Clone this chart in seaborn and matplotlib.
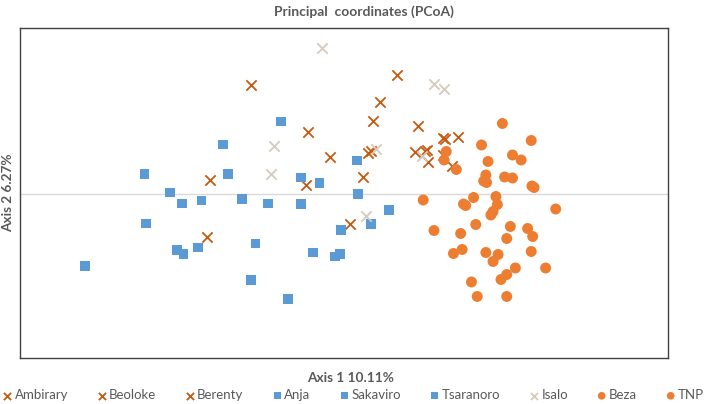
import numpy as np
import pandas as pd
import seaborn as sns
import matplotlib.pyplot as plt

# PCoA scores (axis 1, axis 2)
ambirary_x = [-0.129, 0.050, 0.073, 0.040, -0.050, -0.019, 0.034, 0.0375]
ambirary_y = [0.217, 0.183, 0.237, 0.146, 0.124, 0.073, 0.081, 0.086]
beoloke_x = [0.027, -0.186, -0.053, 0.008, -0.190, 0.103, 0.137]
beoloke_y = [0.033, 0.027, 0.017, -0.060, -0.087, 0.136, 0.111]
berenty_x = [0.140, 0.159, 0.099, 0.112, 0.115, 0.116, 0.138, 0.150]
berenty_y = [0.110, 0.113, 0.083, 0.086, 0.088, 0.063, 0.077, 0.055]

anja_x = [-0.0875, -0.168, -0.277, -0.161, -0.060, -0.034, -0.242, 0.018, 0.020, -0.225]
anja_y = [0.145, 0.099, 0.040, 0.040, 0.033, 0.022, 0.003, 0.067, 0.000, -0.019]
sakaviro_x = [-0.198, -0.142, -0.105, -0.060, 0.0625, -0.275, 0.037, -0.004, -0.232]
sakaviro_y = [-0.013, -0.010, -0.019, -0.020, -0.032, -0.059, -0.060, -0.072, -0.112]
tsaranoro_x = [-0.223, -0.203, -0.123, -0.043, -0.0125, -0.006, -0.360, -0.129, -0.078]
tsaranoro_y = [-0.120, -0.107, -0.099, -0.117, -0.125, -0.120, -0.144, -0.172, -0.210]

isalo_x = [-0.030, -0.097, -0.101, 0.045, 0.125, 0.139, 0.108, 0.031]
isalo_y = [0.291, 0.095, 0.039, 0.089, 0.220, 0.209, 0.075, -0.045]

beza_x = [0.110, 0.125, 0.142, 0.139, 0.156, 0.220, 0.191, 0.260, 0.200, 0.234, 0.246, 0.197,
          0.194, 0.198, 0.223, 0.234, 0.261, 0.264, 0.180, 0.211, 0.166, 0.169, 0.213]
beza_y = [-0.012, -0.073, 0.085, 0.068, 0.049, 0.141, 0.098, 0.107, 0.065, 0.078, 0.068, 0.038,
          0.026, 0.023, 0.034, 0.032, 0.016, 0.013, -0.007, -0.005, -0.020, -0.023, -0.021]
tnp_x = [0.207, 0.204, 0.294, 0.183, 0.162, 0.231, 0.255, 0.262, 0.226, 0.152, 0.164, 0.197,
         0.214, 0.207, 0.260, 0.238, 0.280, 0.226, 0.218, 0.177, 0.185, 0.226]
tnp_y = [-0.035, -0.042, -0.030, -0.061, -0.079, -0.065, -0.069, -0.085, -0.089, -0.119, -0.111, -0.117,
         -0.121, -0.135, -0.115, -0.148, -0.148, -0.161, -0.171, -0.176, -0.205, -0.205]

sites = ['Ambirary', 'Beoloke', 'Berenty', 'Anja', 'Sakaviro', 'Tsaranoro', 'Isalo', 'Beza', 'TNP']
xs = [ambirary_x, beoloke_x, berenty_x, anja_x, sakaviro_x, tsaranoro_x, isalo_x, beza_x, tnp_x]
ys = [ambirary_y, beoloke_y, berenty_y, anja_y, sakaviro_y, tsaranoro_y, isalo_y, beza_y, tnp_y]

BROWN = '#C55A11'
BLUE = '#5B9BD5'
TAN = '#D5CABB'
ORANGE = '#ED7D31'
styles = {
    'Ambirary': ('x', BROWN), 'Beoloke': ('x', BROWN), 'Berenty': ('x', BROWN),
    'Anja': ('s', BLUE), 'Sakaviro': ('s', BLUE), 'Tsaranoro': ('s', BLUE),
    'Isalo': ('x', TAN), 'Beza': ('o', ORANGE), 'TNP': ('o', ORANGE),
}


def main():
    sns.set_style('white')
    plt.rcParams['font.family'] = ['Lato', 'DejaVu Sans']

    fig = plt.figure(figsize=(7.09, 4.04), dpi=100)
    ax = fig.add_axes([0.0282, 0.1139, 0.914, 0.8168])

    ax.axhline(0, color='#D9D9D9', lw=1, zorder=0)

    for site, x, y in zip(sites, xs, ys):
        df = pd.DataFrame({'x': x, 'y': y})
        marker, color = styles[site]
        if marker == 'x':
            sns.scatterplot(data=df, x='x', y='y', marker='x', color=color, s=55,
                            linewidth=1.3, label=site, ax=ax)
        else:
            size = 50 if marker == 's' else 62
            sns.scatterplot(data=df, x='x', y='y', marker=marker, color=color, s=size,
                            linewidth=0, edgecolor='none', label=site, ax=ax)

    ax.set_xlim(-0.45, 0.45)
    ax.set_ylim(-0.328, 0.332)
    ax.set_xticks([])
    ax.set_yticks([])
    ax.set_xlabel('')
    ax.set_ylabel('')
    for sp in ax.spines.values():
        sp.set_color('#404040')
        sp.set_linewidth(1)

    fig.text(0.513, 0.970, 'Principal  coordinates (PCoA)', ha='center', va='center',
             fontsize=10, fontweight='bold', color='#595959')
    fig.text(0.494, 0.064, 'Axis 1 10.11%', ha='center', va='center',
             fontsize=9.8, fontweight='bold', color='#595959')
    fig.text(0.012, 0.522, 'Axis 2 6.27%', ha='center', va='center', rotation=90,
             fontsize=9.8, fontweight='bold', color='#595959')

    leg = ax.legend(loc='center', bbox_to_anchor=(0.515, -0.113), ncol=9,
                    frameon=False, fontsize=9.5, handlelength=0.6, handletextpad=0.25,
                    columnspacing=2.25, borderaxespad=0, markerscale=0.7)
    for t in leg.get_texts():
        t.set_color('#595959')

    fig.savefig('out.png', dpi=100)


if __name__ == '__main__':
    main()
